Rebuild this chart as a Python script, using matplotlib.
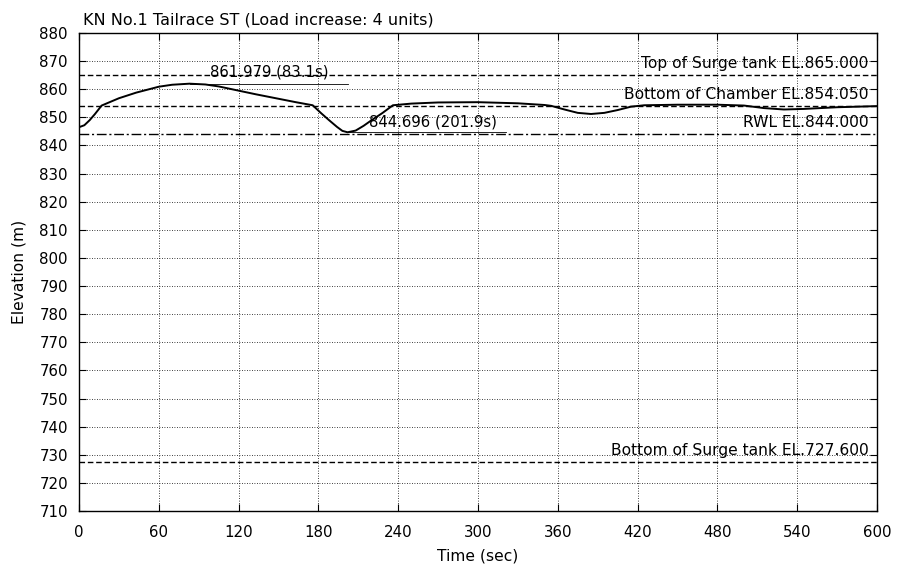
import matplotlib
matplotlib.use("Agg")
import matplotlib.pyplot as plt
import numpy as np

plt.rcParams['font.family'] = ['DejaVu Sans']

# Water level time history (sec, m)
time_s = [0, 4, 8, 12, 17, 30, 43, 60, 70, 83.1, 95, 105, 118, 133, 148, 163, 175.7,
          182, 188, 194, 198, 201.9, 208, 214, 220, 228, 236,
          250, 270, 300, 330, 350, 355, 365, 375, 385, 395, 405, 415, 425,
          450, 480, 500, 515, 530, 545, 570, 600]
elev_m = [846.5, 847.2, 849.0, 851.2, 854.2, 856.8, 858.8, 860.9, 861.6, 861.979, 861.7, 861.0, 859.7, 858.2, 856.8, 855.4, 854.3,
          851.5, 849.0, 846.6, 845.2, 844.696, 845.3, 847.0, 849.0, 851.5, 854.3,
          854.9, 855.3, 855.4, 855.0, 854.4, 854.1, 852.8, 851.6, 851.2, 851.6, 852.6, 853.8, 854.3,
          854.5, 854.5, 854.2, 853.3, 852.8, 853.0, 853.6, 854.0]

ref_levels = [865.0, 854.05, 844.0, 727.6]
ref_labels = ["Top of Surge tank EL.865.000", "Bottom of Chamber EL.854.050",
              "RWL EL.844.000", "Bottom of Surge tank EL.727.600"]
ref_styles = [(0, (4, 2)), (0, (4, 2)), (0, (7, 2, 1.5, 2)), (0, (4, 2))]

peak_val, peak_t = 861.979, 83.1
min_val, min_t = 844.696, 201.9

x_ticks = list(range(0, 601, 60))
y_ticks = list(range(710, 881, 10))

fig = plt.figure(figsize=(8.98, 5.72), dpi=100)
ax = fig.add_axes([0.088, 0.1066, 0.8886, 0.8357])

ax.set_xlim(0, 600)
ax.set_ylim(710, 880)
ax.set_xticks(x_ticks)
ax.set_yticks(y_ticks)
ax.tick_params(direction='in', top=True, right=True, length=5, width=0.8,
               labelsize=10.8)
ax.tick_params(axis='x', pad=10)
ax.tick_params(axis='y', pad=8)
ax.grid(True, color='black', linestyle=(0, (1, 2)), linewidth=0.6)
for sp in ax.spines.values():
    sp.set_linewidth(1.0)

for lvl, lab, ls in zip(ref_levels, ref_labels, ref_styles):
    ax.axhline(lvl, color='black', linestyle=ls, linewidth=1.0)
    ax.text(593.5, lvl + 1.4, lab, ha='right', va='bottom', fontsize=11.2)

ax.plot(time_s, elev_m, color='black', linewidth=1.4)

# peak annotation
ax.plot([peak_t, 202], [peak_val, peak_val], color='black', linewidth=0.6)
ax.text(142.7, peak_val + 1.5, f"{peak_val:.3f} ({peak_t}s)", ha='center', va='bottom', fontsize=10.7)
# min annotation
ax.plot([min_t, 321], [min_val, min_val], color='black', linewidth=0.6)
ax.text(266.0, min_val + 1.1, f"{min_val:.3f} ({min_t}s)", ha='center', va='bottom', fontsize=10.7)

ax.set_xlabel("Time (sec)", fontsize=11.2, labelpad=6)
ax.set_ylabel("Elevation (m)", fontsize=11.2, labelpad=9)
ax.set_title("KN No.1 Tailrace ST (Load increase: 4 units)", loc='left', fontsize=11.5,
             pad=6, x=0.005)

fig.savefig("out.png", dpi=100)
